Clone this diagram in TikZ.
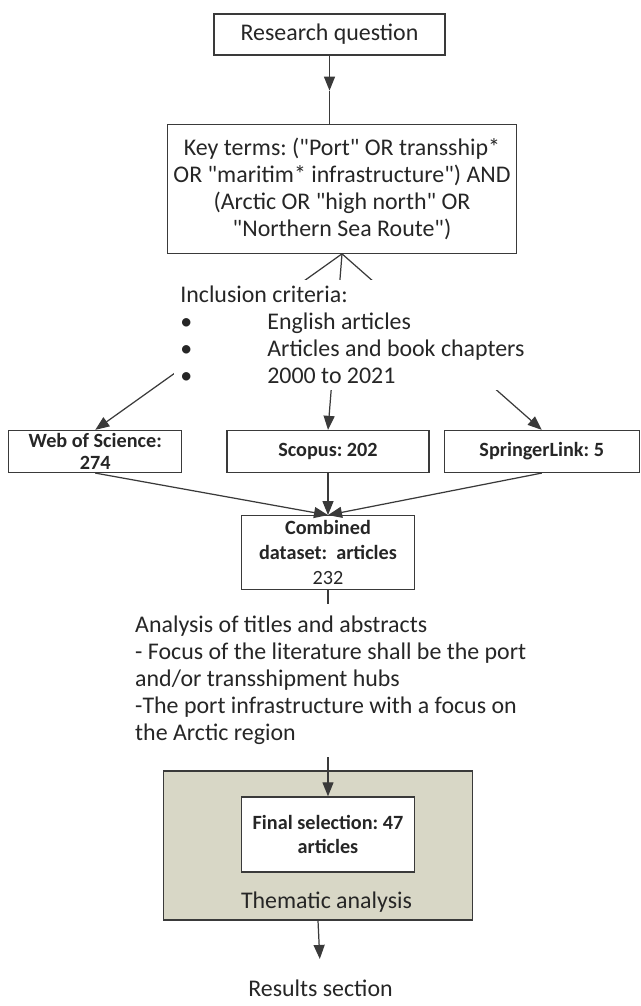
\documentclass[tikz,border=0pt]{standalone}
\usepackage{fontspec}
\setmainfont{Carlito}[Ligatures=TeXOff]
\usepackage{tikz}
\usetikzlibrary{arrows.meta,positioning}
\definecolor{linegray}{HTML}{3A3A3A}
\definecolor{textgray}{HTML}{262626}
\definecolor{olive}{HTML}{D8D7C6}
\newcommand{\regfont}{\fontsize{13.6}{15.4}\selectfont}
\newcommand{\boldfont}{\fontsize{11.5}{13.5}\selectfont\bfseries}
\frenchspacing

\begin{document}
\begin{tikzpicture}[
  box/.style={draw=linegray, fill=white, line width=0.7pt, align=center,
              text=textgray, font=\regfont},
  dbbox/.style={box, font=\boldfont, minimum height=0.84cm, inner sep=0pt},
  plain/.style={fill=white, align=left, text=textgray, font=\regfont,
                inner sep=0.12cm},
  arrow/.style={-{Triangle[length=2.8mm,width=2.2mm]}, line width=0.7pt, draw=linegray},
  link/.style={line width=0.7pt, draw=linegray}
]
  \useasboundingbox (0,0) rectangle (12.82,-20.12);

  \node[box, minimum width=4.62cm, minimum height=0.82cm] (rq) at (6.59,-0.69) {Research question};
  \node[box, below=1.36cm of rq, xshift=0.25cm, minimum width=6.8cm, minimum height=2.58cm] (key)
    {Key terms: ("Port" OR transship*\\OR "maritim* infrastructure") AND\\(Arctic OR "high north" OR\\"Northern Sea Route")};

  \node[dbbox, below=3.52cm of key, xshift=-0.28cm, minimum width=4.04cm] (scopus) {Scopus: 202};
  \node[dbbox, left=0.88cm of scopus, minimum width=3.46cm, font=\fontsize{11.5}{12.5}\selectfont\bfseries] (wos) {Web of Science:\\274};
  \node[dbbox, right=0.28cm of scopus, minimum width=3.9cm] (springer) {SpringerLink: 5};

  \node[dbbox, below=0.84cm of scopus, minimum width=3.46cm, minimum height=1.48cm,
        font=\fontsize{11.5}{14.2}\selectfont\bfseries] (combined)
    {Combined\\dataset:\ \ articles\\{\mdseries 232}};

  % thematic analysis block
  \node[draw=linegray, fill=olive, line width=0.7pt, minimum width=6.18cm, minimum height=2.98cm,
        below=3.6cm of combined, xshift=-0.2cm] (thematic) {};
  \node[dbbox, below=0.52cm of thematic.north, xshift=0.2cm, minimum width=3.46cm,
        minimum height=1.5cm] (final) {Final selection: 47\\articles};
  \node[text=textgray, font=\regfont] (thlabel) at ([yshift=0.36cm, xshift=0.17cm]thematic.south) {Thematic analysis};
  \node[text=textgray, font=\regfont] (results) at ([yshift=-1.36cm, xshift=0.05cm]thematic.south) {Results section};

  \coordinate[below=0.7cm of rq.south] (rqmid);
  \draw[arrow] (rq.south) -- (rqmid);
  \draw[link] (rqmid) -- (rqmid |- key.north);

  \draw[arrow] (key.south) -- (wos.north);
  \draw[arrow] (key.south) -- (scopus.north);
  \draw[arrow] (key.south) -- (springer.north);

  \draw[arrow] (wos.south) -- (combined.north);
  \draw[arrow] (scopus.south) -- (combined.north);
  \draw[arrow] (springer.south) -- (combined.north);

  \draw[arrow] (combined.south) -- (final.north);
  \draw[arrow, shorten >=0.3cm] (thematic.south) -- (results.north);

  % text blocks laid over the connectors
  \node[plain, below right=0.52cm and 0.14cm of key.south west] (incl)
    {Inclusion criteria:\\
     \makebox[1.74cm][l]{\textbullet}English articles\\
     \makebox[1.74cm][l]{\textbullet}Articles and book chapters\\
     \makebox[1.74cm][l]{\textbullet}2000 to 2021};
  \node[plain, anchor=north west, minimum height=3.06cm] (analysis)
    at ([xshift=-2.24cm, yshift=-0.26cm]combined.south west)
    {Analysis of titles and abstracts\\
     - Focus of the literature shall be the port\\
     and/or transshipment hubs\\
     -The port infrastructure with a focus on\\
     the Arctic region};
\end{tikzpicture}
\end{document}
